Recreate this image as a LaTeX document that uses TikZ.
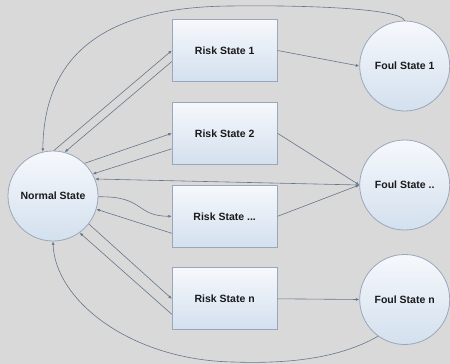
\documentclass[tikz,border=0pt]{standalone}
\usepackage{fontspec}
\setmainfont{Liberation Sans}
\usetikzlibrary{arrows.meta}
\definecolor{bg}{HTML}{D9D9D9}
\definecolor{nodetop}{HTML}{F6F8FC}
\definecolor{nodebot}{HTML}{D3E0EE}
\definecolor{nodeborder}{HTML}{9AA7BA}
\definecolor{linec}{HTML}{66768C}
\definecolor{txt}{HTML}{1A1A1A}
\tikzset{
  statecirc/.style={circle, draw=nodeborder, line width=0.8pt, top color=nodetop, bottom color=nodebot,
    minimum size=90pt, inner sep=0pt, font=\fontsize{10.5}{12}\selectfont\bfseries, text=txt},
  statebox/.style={rectangle, draw=nodeborder, line width=0.8pt, top color=nodetop, bottom color=nodebot,
    minimum width=105pt, minimum height=62pt, inner sep=0pt, font=\fontsize{10.5}{12}\selectfont\bfseries, text=txt},
  conn/.style={draw=linec, line width=0.6pt, -{Latex[length=3.5pt,width=3pt]}}
}
\begin{document}
\begin{tikzpicture}[x=1pt,y=-1pt]
\fill[bg] (0,0) rectangle (450,364);
\useasboundingbox (0,0) rectangle (450,364);

\node[statecirc] (ns) at (53,196) {Normal State};
\node[statebox] (r1) at (224.7,50.5) {Risk State 1};
\node[statebox] (r2) at (224.7,133.3) {Risk State 2};
\node[statebox] (r3) at (224.7,216.3) {Risk State ...};
\node[statebox] (rn) at (224.7,298.8) {Risk State n};
\node[statecirc] (f1) at (404.7,66) {Foul State 1};
\node[statecirc] (f2) at (404.7,185) {Foul State ..};
\node[statecirc] (fn) at (404.7,299.5) {Foul State n};

% Normal <-> Risk 1
\draw[conn] (ns.89) -- (r1.west);
\draw[conn] ([yshift=-11pt]r1.west) -- (ns.75);
% Normal <-> Risk 2
\draw[conn] (ns.46) -- (r2.west);
\draw[conn] ([yshift=-15.5pt]r2.west) -- (ns.29);
% Foul .. -> Normal
\draw[conn] (f2.west) -- (ns.22);
% Normal <-> Risk ...
\draw[conn] (ns.-1) .. controls (145,196) and (135,216) .. (r3.west);
\draw[conn] ([yshift=-17pt]r3.west) -- (ns.-17);
% Normal <-> Risk n
\draw[conn] (ns.-38) -- (rn.west);
\draw[conn] ([yshift=-15.5pt]rn.west) -- (ns.-54);
% Risk -> Foul
\draw[conn] (r1.east) -- (f1.west);
\draw[conn] (r2.east) -- (f2.west);
\draw[conn] (r3.east) -- (f2.west);
\draw[conn] (rn.east) -- (fn.west);
% long returns
\draw[conn] (f1.north) .. controls (400,8) and (300,5) .. (230,6) .. controls (108,7) and (44,52) .. (ns.103);
\draw[conn] (fn.234) .. controls (340,358) and (290,364) .. (233,362) .. controls (130,360) and (55,300) .. (ns.-90);
\end{tikzpicture}
\end{document}
